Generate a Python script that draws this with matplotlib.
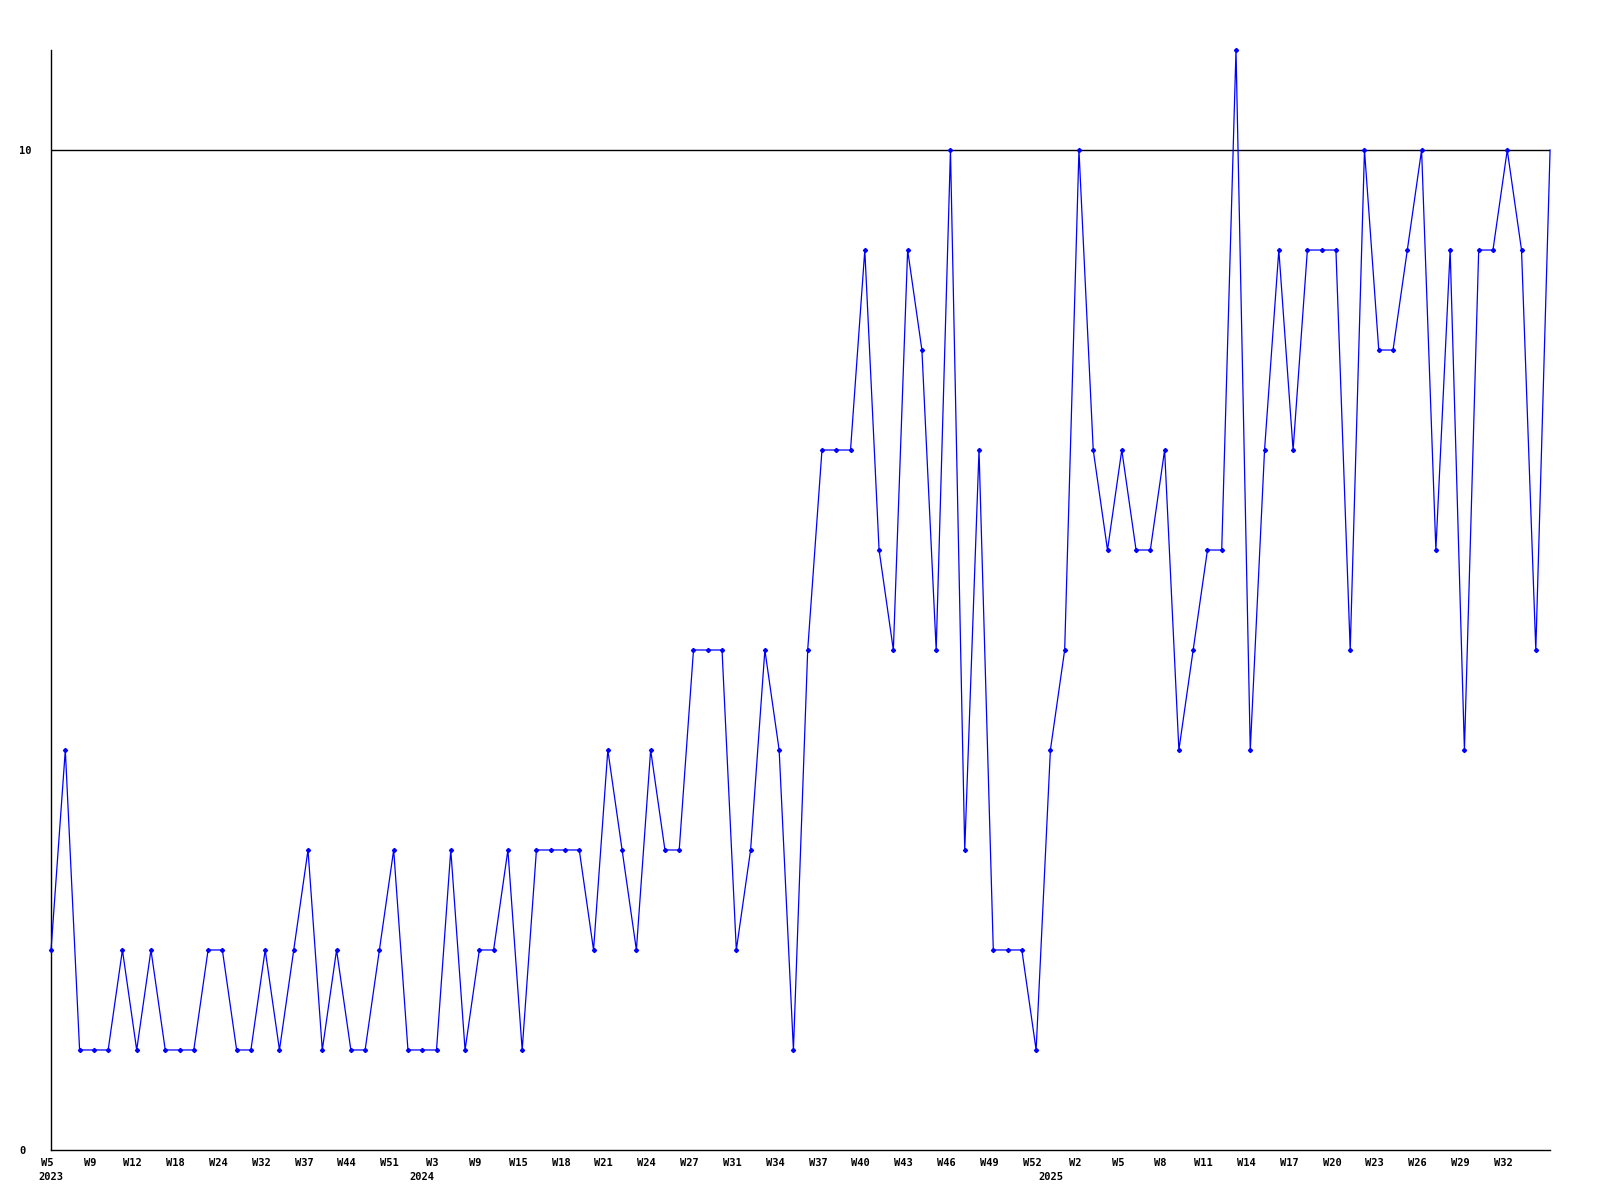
#!/usr/bin/env python3
# ******************************************************************************
# plot.py
# ******************************************************************************

# Purpose:
# Weekly counts from 2023 W5 onward, drawn as a single line with markers.


# ******************************************************************************
# Import packages
# ******************************************************************************
import matplotlib
matplotlib.use('Agg')
import matplotlib.pyplot as plt
import matplotlib.transforms as mtrans


# ******************************************************************************
# Data
# ******************************************************************************
values = [2, 4, 1, 1, 1, 2, 1, 2, 1, 1,
          1, 2, 2, 1, 1, 2, 1, 2, 3, 1,
          2, 1, 1, 2, 3, 1, 1, 1, 3, 1,
          2, 2, 3, 1, 3, 3, 3, 3, 2, 4,
          3, 2, 4, 3, 3, 5, 5, 5, 2, 3,
          5, 4, 1, 5, 7, 7, 7, 9, 6, 5,
          9, 8, 5, 10, 3, 7, 2, 2, 2, 1,
          4, 5, 10, 7, 6, 7, 6, 6, 7, 4,
          5, 6, 6, 11, 4, 7, 9, 7, 9, 9,
          9, 5, 10, 8, 8, 9, 10, 6, 9, 4,
          9, 9, 10, 9, 5, 10]

# Week labels shown every third point
week_labels = ['W5', 'W9', 'W12', 'W18', 'W24', 'W32', 'W37', 'W44', 'W51',
               'W3', 'W9', 'W15', 'W18', 'W21', 'W24', 'W27', 'W31', 'W34',
               'W37', 'W40', 'W43', 'W46', 'W49', 'W52', 'W2', 'W5', 'W8',
               'W11', 'W14', 'W17', 'W20', 'W23', 'W26', 'W29', 'W32']
week_step = 3

# Year labels and the point index where each year starts
year_labels = ['2023', '2024', '2025']
year_index = [0, 26, 70]

y_ticks = [0, 10]


# ******************************************************************************
# Plot
# ******************************************************************************
plt.rcParams['font.family'] = ['DejaVu Sans Mono']
x = list(range(len(values)))

fig = plt.figure(figsize=(16, 12), dpi=100)
ax = fig.add_axes([0.0319, 0.0417, 0.9369, 0.9166])

ax.axhline(10, color='black', lw=1.0, zorder=1)
ax.plot(x, values, color='#0000ff', lw=0.9, marker='D', ms=2.1,
        markevery=list(range(len(values) - 1)), zorder=3, clip_on=False)

ax.set_xlim(0, len(values) - 1)
ax.set_ylim(0, 11)

for s in ['top', 'right']:
    ax.spines[s].set_visible(False)
for s in ['left', 'bottom']:
    ax.spines[s].set_linewidth(1.0)

# Y labels are left aligned in the reference
ax.set_yticks(y_ticks)
ax.set_yticklabels([str(v) for v in y_ticks], fontsize=7.5,
                   fontweight='bold', ha='left')
ax.tick_params(axis='y', length=0, pad=23)

ax.set_xticks(x[:len(week_labels) * week_step:week_step])
ax.set_xticklabels(week_labels, fontsize=7.5, fontweight='bold')
ax.tick_params(axis='x', length=0, pad=6)
shift = mtrans.ScaledTranslation(-4 / 100, 0, fig.dpi_scale_trans)
for lab in ax.get_xticklabels():
    lab.set_transform(lab.get_transform() + shift)

# Year labels below the week labels
trans = mtrans.blended_transform_factory(ax.transData, ax.transAxes)
for lab, i in zip(year_labels, year_index):
    ax.text(i, -0.0245, lab, transform=trans, ha='center', va='center',
            fontsize=7.5, fontweight='bold')

plt.savefig('out.png', dpi=100)
